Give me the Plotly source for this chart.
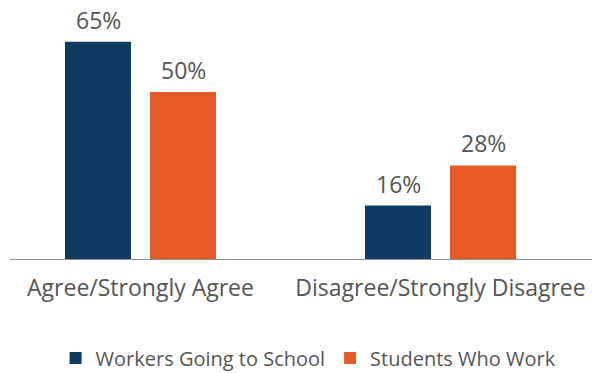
import plotly.graph_objects as go

categories = ["Agree/Strongly Agree", "Disagree/Strongly Disagree"]
workers_going_to_school = [65, 16]
students_who_work = [50, 28]
series_names = ["Workers Going to School", "Students Who Work"]

NAVY = "#0f3b60"
ORANGE = "#e55a27"
TEXT = "#555555"
FONT = "Open Sans"

fig = go.Figure()
for name, vals, color in [
    (series_names[0], workers_going_to_school, NAVY),
    (series_names[1], students_who_work, ORANGE),
]:
    fig.add_trace(go.Bar(
        x=categories, y=vals, name=name, marker_color=color,
        marker_line_width=0,
    ))

# value labels above each bar
for shift, vals in [(-42.5, workers_going_to_school), (42.5, students_who_work)]:
    for cat, v in zip(categories, vals):
        fig.add_annotation(
            x=cat, y=v, text=f"{v}%", showarrow=False,
            xshift=shift, yshift=4, yanchor="bottom",
            font=dict(family=FONT, size=23, color=TEXT),
        )

fig.update_layout(
    width=592, height=373,
    margin=dict(l=10, r=0, t=0, b=114, autoexpand=False),
    paper_bgcolor="white", plot_bgcolor="white",
    barmode="group", bargap=0.433, bargroupgap=0.224,
    showlegend=True,
    legend=dict(
        orientation="h", x=0.513, xanchor="center", y=-0.382, yanchor="middle",
        font=dict(family=FONT, size=20, color=TEXT),
        itemsizing="constant",
    ),
    font=dict(family=FONT, color=TEXT),
)
fig.update_xaxes(
    range=[-0.435, 1.505], showline=True, linecolor="#8a9099", linewidth=1,
    ticks="", showgrid=False, ticklabelstandoff=8,
    tickfont=dict(family=FONT, size=23, color=TEXT),
)
fig.update_yaxes(range=[0, 77.5], visible=False, showgrid=False, zeroline=False)

fig.write_html("out.html")
